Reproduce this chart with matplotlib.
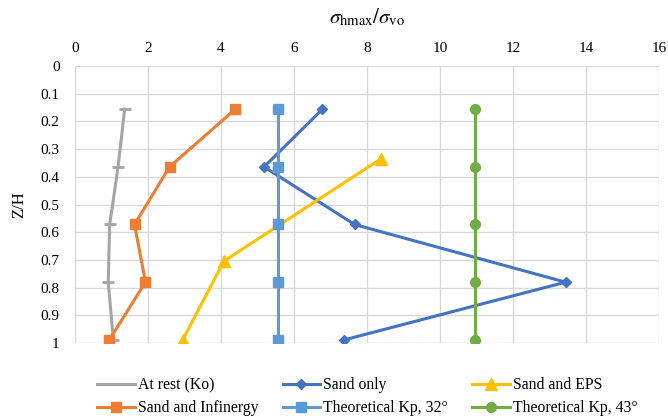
import matplotlib
matplotlib.use("Agg")
import matplotlib.pyplot as plt
from matplotlib.ticker import FuncFormatter

plt.rcParams["font.family"] = ["Liberation Serif", "DejaVu Serif"]
plt.rcParams["mathtext.fontset"] = "stix"

# depth ratio Z/H of the measuring points
z_h = [0.156, 0.364, 0.572, 0.78, 0.988]
z_h_eps = [0.335, 0.704, 0.988]

at_rest = [1.36, 1.18, 0.95, 0.91, 1.05]
sand_only = [6.78, 5.18, 7.66, 13.44, 7.38]
sand_eps = [8.38, 4.08, 2.95]
sand_infinergy = [4.39, 2.59, 1.63, 1.93, 0.94]
kp_32 = [5.57] * 5
kp_43 = [10.95] * 5

fig = plt.figure(figsize=(6.68, 4.2), dpi=100)
ax = fig.add_axes([0.1123, 0.183, 0.8742, 0.660])

lw = 2.2
h_rest, = ax.plot(at_rest, z_h, color="#A5A5A5", lw=lw, marker="_", ms=8, mew=2,
                  label="At rest (Ko)")
h_sand, = ax.plot(sand_only, z_h, color="#4472C4", lw=lw, marker="D", ms=5,
                  label="Sand only")
h_eps, = ax.plot(sand_eps, z_h_eps, color="#FFC000", lw=lw, marker="^", ms=8,
                 label="Sand and EPS")
h_inf, = ax.plot(sand_infinergy, z_h, color="#ED7D31", lw=lw, marker="s", ms=7,
                 label="Sand and Infinergy")
h_32, = ax.plot(kp_32, z_h, color="#5B9BD5", lw=lw, marker="s", ms=7,
                label="Theoretical Kp, 32°")
h_43, = ax.plot(kp_43, z_h, color="#70AD47", lw=lw, marker="o", ms=7,
                label="Theoretical Kp, 43°")

ax.set_xlim(0, 16)
ax.set_ylim(1, 0)
ax.set_xticks(range(0, 17, 2))
ax.set_yticks([i / 10 for i in range(11)])
ax.yaxis.set_major_formatter(FuncFormatter(lambda v, p: "%g" % round(v, 1)))
ax.xaxis.tick_top()
ax.xaxis.set_label_position("top")
ax.tick_params(length=0, labelsize=11, pad=8)
ax.tick_params(axis="y", pad=11)
ax.grid(True, color="#D9D9D9", lw=1)
ax.set_axisbelow(True)
for s in ax.spines.values():
    s.set_visible(False)

ax.set_xlabel(r"$\sigma_{\rm hmax}/\sigma_{\rm vo}$", fontsize=15, labelpad=13)
ax.set_ylabel("Z/H", fontsize=12, labelpad=10)

handles = [h_rest, h_inf, h_sand, h_32, h_eps, h_43]
fig.legend(handles=handles, labels=[h.get_label() for h in handles], ncol=3,
           loc="lower center", bbox_to_anchor=(0.55, -0.025), frameon=False,
           fontsize=11.3, handlelength=2.4, columnspacing=1.55, handletextpad=0.2,
           labelspacing=0.45)

fig.savefig("out.png", dpi=100)
